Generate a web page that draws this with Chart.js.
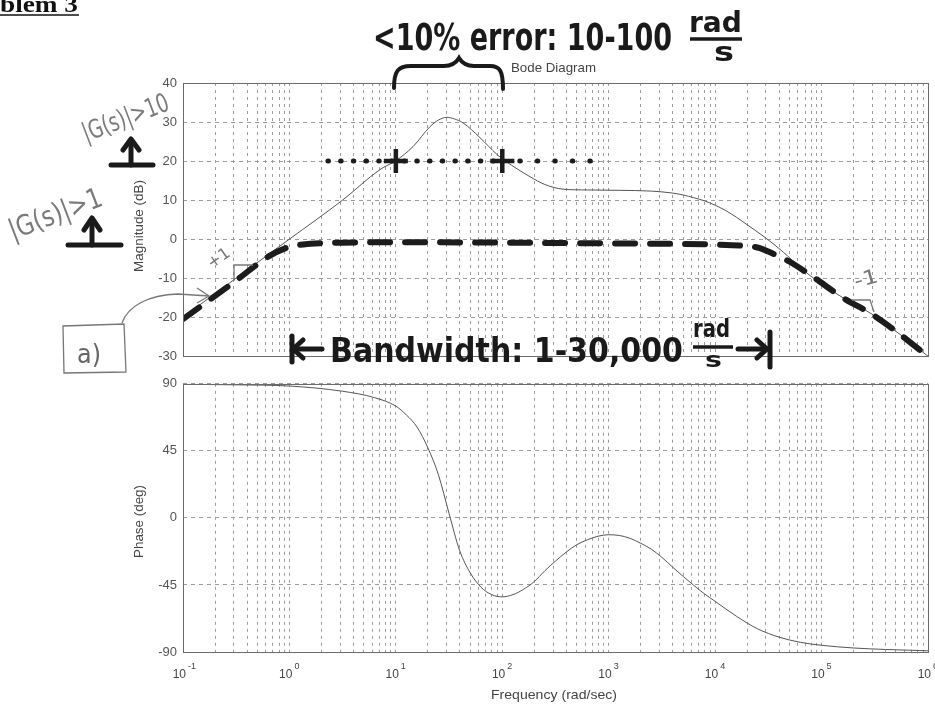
<!DOCTYPE html>
<html><head><meta charset="utf-8">
<script src="https://cdn.jsdelivr.net/npm/chart.js@4.4.1/dist/chart.umd.min.js"></script>
<style>
html,body{margin:0;padding:0;background:#fff;width:935px;height:706px;overflow:hidden;position:relative}
canvas{position:absolute;left:0}
#mag{top:0}
#ph{top:370px}
.t{position:absolute;white-space:nowrap;line-height:1}
svg{position:absolute;left:0;top:0}
</style></head><body>
<canvas id="mag" width="935" height="370"></canvas>
<canvas id="ph" width="935" height="336"></canvas>
<svg width="935" height="706" xmlns="http://www.w3.org/2000/svg">
  <line x1="0" y1="15" x2="79" y2="15" stroke="#111" stroke-width="1.6"/>
  <!-- brace -->
  <path d="M394,88 C394,71 398,66 411,66 L444,66 C452,66 456,63 459,58 C462,63 466,66 474,66 L490,66 C500,66 503,71 503,89" fill="none" stroke="#1a1a1a" stroke-width="4" stroke-linecap="round"/>
  <!-- up arrows -->
  <g stroke="#1a1a1a" stroke-width="5" fill="none" stroke-linecap="round" stroke-linejoin="round">
    <line x1="111" y1="165" x2="153" y2="165"/>
    <line x1="131" y1="165" x2="131" y2="141"/>
    <polyline points="123,150 131,139 139,150"/>
    <line x1="68" y1="245" x2="121" y2="245"/>
    <line x1="92" y1="245" x2="92" y2="221"/>
    <polyline points="84,230 92,218 100,230"/>
    <!-- bandwidth arrows -->
    <line x1="292" y1="336" x2="292" y2="362"/>
    <line x1="293" y1="349" x2="322" y2="349"/>
    <polyline points="303,340 293,349 303,358"/>
    <line x1="738" y1="349" x2="767" y2="349"/>
    <polyline points="757,340 767,349 757,358"/>
    <line x1="770" y1="332" x2="770" y2="367"/>
  </g>
  <!-- fraction bars -->
  <line x1="690" y1="39" x2="742" y2="39" stroke="#1a1a1a" stroke-width="3.5"/>
  <line x1="693" y1="347" x2="733" y2="347" stroke="#1a1a1a" stroke-width="3.5"/>
  <!-- slope triangles -->
  <g stroke="#777" stroke-width="1.3" fill="none">
    <polyline points="253,265 234,265 234,281"/>
    <polyline points="852,300 870,300 874,312"/>
    <!-- a) box -->
    <path d="M63,326 L124,324 L126,372 L64,373 Z"/>
    <!-- curved arrow -->
    <path d="M122,323 C128,306 148,295 178,294 L209,296"/>
    <polyline points="197,288 209,296 197,303"/>
  </g>
</svg>
<script>
// ---------------- data ----------------
const freqMag = [0.1, 0.316, 1, 3.16, 7.08, 10, 14.5, 20.9, 25.1, 30.2, 35.5, 42.7, 61.7, 89.1, 107, 182, 251, 372, 631, 1259, 2512, 3981, 5012, 6310, 7943, 10000, 12589, 15849, 19953, 28184, 39811, 47863, 77625, 158489, 309030, 1000000];
const magDb   = [-20, -10, 0, 10, 17.8, 20.1, 23.7, 28.8, 30.5, 31.2, 30.8, 29.8, 26, 21.7, 20, 16, 14, 12.8, 12.6, 12.5, 12.3, 11.8, 11.3, 10.6, 9.8, 8.7, 7.3, 5.6, 3.7, 0.8, -2.4, -4.3, -9.3, -15, -19.5, -30];

const freqApprox = [0.1, 0.316, 0.631, 1, 1.58, 3.16, 10, 100, 1000, 10000, 19953, 26300, 31600, 50100, 79400, 158000, 316000, 1000000];
const approxDb   = [-20.5, -10.6, -4.5, -2, -1.2, -0.9, -0.8, -0.9, -1.1, -1.4, -1.8, -2.3, -3.2, -5.8, -9.3, -15, -19.7, -30];

const freqPhase = [0.1, 0.316, 1, 3.16, 6.31, 10, 12.6, 15.8, 20, 25.1, 31.6, 39.8, 50.1, 63.1, 79.4, 100, 126, 158, 200, 251, 316, 398, 501, 631, 794, 1000, 1259, 1585, 1995, 2512, 3162, 3981, 5012, 6310, 7943, 10000, 15849, 25119, 39811, 63096, 100000, 199526, 398107, 1000000];
const phaseDeg  = [89.7, 89.3, 88.5, 85, 80.7, 75, 69, 61, 47, 29, 3, -22, -37, -46.5, -51.5, -53, -51.5, -48, -42.7, -35.5, -29, -23, -18, -14.7, -12.3, -11.3, -11.8, -13.7, -17, -21, -26.5, -33, -39.3, -45.3, -51, -56, -66, -74.5, -80, -83.5, -85.5, -87.3, -88.3, -89.2];

const dotFreqA = [2.3, 100];
const dotFreqB = [100, 780];
const dotDb = [20, 20];
// error-band markers: the two "+" crosses sit at 10 and 100 rad/s
const markFreq = [2.3, 10, 100, 780];
const markDb = [20, 20, 20, 20];
const markShown = [false, true, true, false];

const magTicks = [-30, -20, -10, 0, 10, 20, 30, 40];
const phaseTicks = [-90, -45, 0, 45, 90];
const decadeExp = [-1, 0, 1, 2, 3, 4, 5, 6];
const decadeLabels = ['-1', '0', '1', '2', '3', '4', '5', '6'];

// ---------------- helpers ----------------
const pts = (xs, ys) => xs.map((x, i) => ({x: x, y: ys[i]}));
const GRID = '#9c9c9c';
const TICKFONT = {family: 'Liberation Sans', size: 13};

function xScale() {
  return {
    type: 'logarithmic', min: 0.1, max: 1e6,
    afterBuildTicks: s => {
      const t = [];
      decadeExp.slice(0, -1).forEach(e => { for (let m = 1; m < 10; m++) t.push({value: m * Math.pow(10, e)}); });
      t.push({value: 1e6});
      s.ticks = t;
    },
    ticks: {display: false},
    grid: {color: GRID, lineWidth: 1, drawTicks: false},
    border: {display: false, dash: [3, 4]},
    afterFit: s => { s.height = 0; }
  };
}
function yScale(min, max, ticks) {
  return {
    min: min, max: max,
    afterBuildTicks: s => { s.ticks = ticks.map(v => ({value: v})); },
    ticks: {color: '#555', font: TICKFONT, padding: 6},
    grid: {color: GRID, lineWidth: 1, drawTicks: false},
    border: {display: false, dash: [4, 4]},
    afterFit: s => { s.width = 183; }
  };
}
const framePlugin = {
  id: 'frame',
  afterDraw(chart) {
    const a = chart.chartArea, c = chart.ctx;
    c.save(); c.strokeStyle = '#6a6a6a'; c.lineWidth = 1;
    c.strokeRect(Math.round(a.left) + 0.5, Math.round(a.top) + 0.5, Math.round(a.right - a.left), Math.round(a.bottom - a.top));
    c.restore();
  }
};
const xLabelPlugin = {
  id: 'xlabels',
  afterDraw(chart) {
    const s = chart.scales.x, c = chart.ctx;
    c.save(); c.fillStyle = '#444';
    decadeExp.forEach((e, i) => {
      const px = s.getPixelForValue(Math.pow(10, e));
      c.font = '12px "Liberation Sans"';
      c.textAlign = 'right'; c.textBaseline = 'alphabetic';
      c.fillText('10', px + 3, 308);
      c.font = '9px "Liberation Sans"'; c.textAlign = 'left';
      c.fillText(decadeLabels[i], px + 5, 299);
    });
    c.restore();
  }
};
const common = {responsive: false, animation: false, plugins: {legend: {display: false}, tooltip: {enabled: false}}};

// ---------------- magnitude ----------------
new Chart(document.getElementById('mag'), {
  type: 'line',
  data: {datasets: [
    {data: pts(freqMag, magDb), borderColor: '#555', borderWidth: 1, pointRadius: 0, cubicInterpolationMode: 'monotone', order: 4},
    {data: pts(freqApprox, approxDb), borderColor: '#1c1c1c', borderWidth: 6, borderDash: [20, 15], borderCapStyle: 'round', pointRadius: 0, cubicInterpolationMode: 'monotone', order: 3},
    {data: pts(dotFreqA, dotDb), borderColor: '#1c1c1c', borderWidth: 5, borderDash: [0.5, 12.2], borderCapStyle: 'round', pointRadius: 0, order: 2},
    {data: pts(dotFreqB, dotDb), borderColor: '#1c1c1c', borderWidth: 5, borderDash: [0.5, 17], borderCapStyle: 'round', pointRadius: 0, order: 2},
    {data: pts(markFreq, markDb), showLine: false, pointStyle: 'cross',
     pointRadius: markShown.map(v => v ? 12 : 0), pointBorderWidth: markShown.map(v => v ? 4.5 : 0),
     pointBorderColor: '#1c1c1c', order: 1}
  ]},
  options: Object.assign({}, common, {
    layout: {padding: {left: 0, right: 7, top: 83, bottom: 12}},
    scales: {x: xScale(), y: yScale(-30, 40, magTicks)}
  }),
  plugins: [framePlugin]
});

// ---------------- phase ----------------
new Chart(document.getElementById('ph'), {
  type: 'line',
  data: {datasets: [
    {data: pts(freqPhase, phaseDeg), borderColor: '#555', borderWidth: 1, pointRadius: 0, cubicInterpolationMode: 'monotone'}
  ]},
  options: Object.assign({}, common, {
    layout: {padding: {left: 0, right: 7, top: 10, bottom: 54}},
    scales: {x: xScale(), y: yScale(-90, 90, phaseTicks)}
  }),
  plugins: [framePlugin, xLabelPlugin]
});

// ---------------- text ----------------
function addText(txt, o) {
  const d = document.createElement('div');
  d.className = 't'; d.textContent = txt;
  d.style.fontFamily = o.font || '"DejaVu Sans"';
  d.style.fontSize = o.size + 'px';
  d.style.fontWeight = o.weight || 'normal';
  d.style.color = o.color || '#1a1a1a';
  document.body.appendChild(d);
  const w = d.getBoundingClientRect().width;
  const sx = o.w ? o.w / w : 1;
  const asc = 0.845 * o.size;
  d.style.left = o.x + 'px';
  d.style.top = (o.base - asc) + 'px';
  d.style.transformOrigin = '0px ' + asc + 'px';
  d.style.transform = 'rotate(' + (o.rot || 0) + 'deg) scaleX(' + sx + ')';
}
const LS = '"Liberation Sans", Arial, sans-serif';
addText('Bode Diagram', {x: 511, base: 71.5, size: 13, font: LS, color: '#444', w: 85});
addText('Magnitude (dB)', {x: 143, base: 272, size: 13, font: LS, color: '#444', w: 92, rot: -90});
addText('Phase (deg)', {x: 143, base: 558, size: 13, font: LS, color: '#444', w: 73, rot: -90});
addText('Frequency (rad/sec)', {x: 491, base: 699, size: 13, font: LS, color: '#444', w: 126});

addText('blem 3', {x: 0, base: 12, size: 24, font: '"Liberation Serif", serif', weight: 'bold', color: '#111', w: 78});
addText('<10% error: 10-100', {x: 373, base: 50, size: 37, weight: 'bold', w: 299});
addText('rad', {x: 689, base: 33, size: 28, weight: 'bold', w: 53});
addText('s', {x: 714, base: 61, size: 26, weight: 'bold', w: 20});
addText('Bandwidth: 1-30,000', {x: 330, base: 362, size: 34, weight: 'bold', w: 353});
addText('rad', {x: 693, base: 337, size: 24, weight: 'bold', w: 37});
addText('s', {x: 705, base: 368, size: 22, weight: 'bold', w: 17});

addText('|G(s)|>10', {x: 86, base: 142, size: 26, color: '#7a7a7a', w: 91, rot: -21});
addText('|G(s)|>1', {x: 13, base: 241, size: 28, color: '#7a7a7a', w: 98, rot: -21});
addText('+1', {x: 212, base: 270, size: 16, color: '#777', w: 24, rot: -35});
addText('-1', {x: 856, base: 288, size: 20, color: '#777', w: 24, rot: -15});
addText('a)', {x: 77, base: 363, size: 26, color: '#666', w: 24});
</script>
</body></html>
